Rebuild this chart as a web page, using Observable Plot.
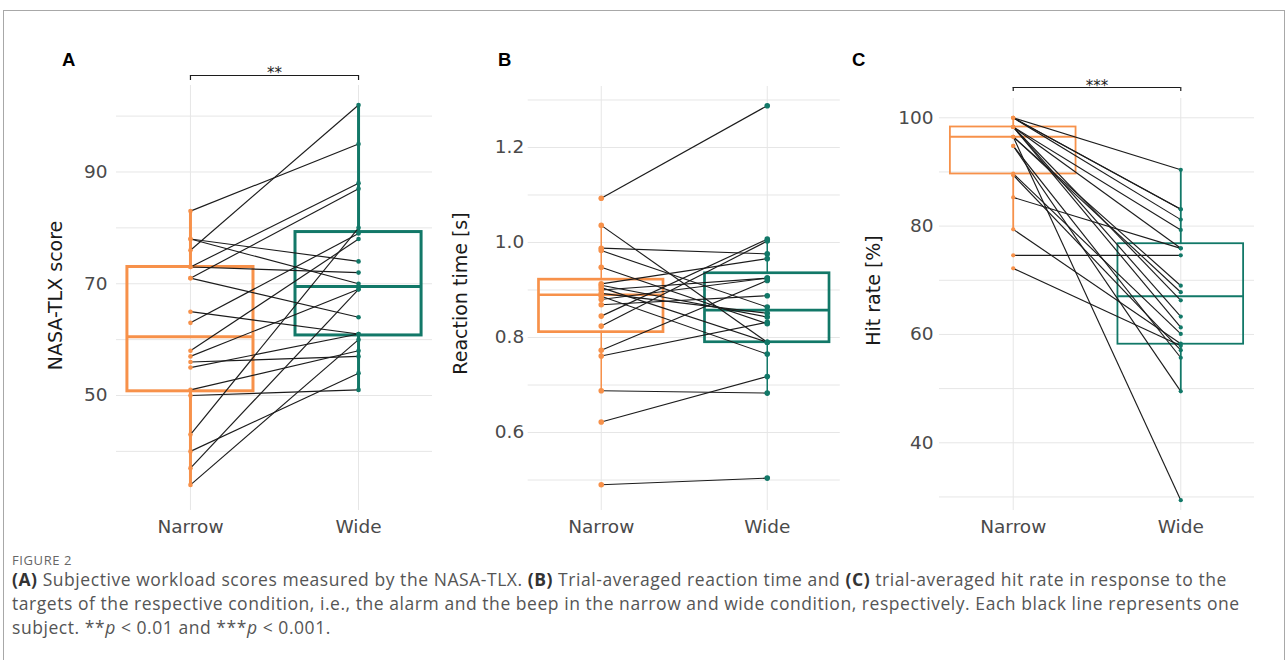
<!DOCTYPE html>
<html>
<head>
<meta charset="utf-8">
<script src="https://cdn.jsdelivr.net/npm/d3@7"></script>
<script src="https://cdn.jsdelivr.net/npm/@observablehq/plot@0.6"></script>
<style>
  html, body { margin: 0; padding: 0; background: #fff; }
  #fig { position: relative; width: 1288px; height: 660px; overflow: hidden; font-family: "DejaVu Sans", sans-serif; }
  .frame { position: absolute; left: 3px; top: 10px; width: 1282px; height: 660px; box-sizing: border-box;
           border-top: 1px solid #a8a8a8; border-left: 1px solid #a8a8a8; border-right: 1px solid #a8a8a8; }
  .panel { position: absolute; top: 0; }
  .letter { position: absolute; font-family: "Liberation Sans", Arial, sans-serif; font-weight: bold; font-size: 18.5px; line-height: 18px; color: #000; }
  .figlabel { position: absolute; left: 12px; top: 551px; font-family: "Open Sans", "Noto Sans", sans-serif; font-size: 13px; color: #666; letter-spacing: 0.6px; }
  .caption { position: absolute; left: 12px; top: 567px; font-family: "Open Sans", "Noto Sans", sans-serif; font-size: 17.5px; line-height: 24px; color: #555; white-space: nowrap; letter-spacing: 0.55px; }
  .caption b { color: #333; }
</style>
</head>
<body>
<div id="fig">
  <div class="frame"></div>
  <div class="letter" style="left:62px;top:51px">A</div>
  <div class="letter" style="left:498px;top:51px">B</div>
  <div class="letter" style="left:852px;top:51px">C</div>
  <div class="figlabel">FIGURE 2</div>
  <div class="caption">
    <b>(A)</b> Subjective workload scores measured by the NASA-TLX. <b>(B)</b> Trial-averaged reaction time and <b>(C)</b> trial-averaged hit rate in response to the<br>
    targets of the respective condition, i.e., the alarm and the beep in the narrow and wide condition, respectively. Each black line represents one<br>
    subject. **<i>p</i> &lt; 0.01 and ***<i>p</i> &lt; 0.001.
  </div>
</div>
<script>
// ---- data ----
const conditions = ["Narrow", "Wide"];

// Panel A: NASA-TLX score, one entry per subject (same order in both arrays)
const tlxNarrow = [83, 78, 78, 76, 73, 73, 71, 71, 65, 63, 58, 57, 56, 55, 51, 50, 43, 40, 37, 34];
const tlxWide   = [95, 74, 70, 102, 88, 72, 87, 64, 61, 79, 78, 69, 57, 61, 58, 51, 80, 54, 69, 60];

// Panel B: reaction time [s]
const rtNarrow = [1.093, 1.036, 0.988, 0.983, 0.948, 0.913, 0.910, 0.905, 0.900, 0.893, 0.887, 0.880, 0.869, 0.845, 0.824, 0.773, 0.761, 0.688, 0.622, 0.490];
const rtWide   = [1.288, 0.790, 0.976, 0.864, 0.829, 0.966, 0.843, 0.790, 0.925, 0.851, 0.765, 0.925, 0.888, 1.007, 1.003, 0.920, 0.832, 0.683, 0.718, 0.504];

// Panel C: hit rate [%]
const hitNarrow = [100, 100, 100, 100, 98.3, 98.3, 98.3, 98.3, 98.3, 96.5, 96.5, 96.5, 94.8, 94.8, 89.7, 89.4, 85.3, 79.4, 74.6, 72.2];
const hitWide   = [90.4, 83.1, 83.1, 81.2, 66.3, 79.3, 75.9, 61.3, 63.3, 69.0, 29.4, 67.8, 55.7, 49.5, 60.1, 57.1, 75.9, 58.3, 74.6, 57.9];

// tick labels / grid values
const tlxTicks = [50, 70, 90];
const tlxGrid = [40, 50, 60, 70, 80, 90, 100];
const rtTicks = [0.6, 0.8, 1.0, 1.2];
const rtGrid = [0.5, 0.6, 0.7, 0.8, 0.9, 1.0, 1.1, 1.2, 1.3];
const hitTicks = [40, 60, 80, 100];
const hitGrid = [30, 40, 50, 60, 70, 80, 90, 100];

// significance annotations
const sigA = {label: "**", level: 107.27, tickEnd: 106.37};
const sigC = {label: "***", level: 105.59, tickEnd: 104.86};

const colNarrow = "#F7914A";
const colWide = "#127868";

function boxStats(vals) {
  const s = d3.sort(vals);
  const q1 = d3.quantileSorted(s, 0.25), med = d3.quantileSorted(s, 0.5), q3 = d3.quantileSorted(s, 0.75);
  const iqr = q3 - q1;
  const lo = d3.min(s.filter(v => v >= q1 - 1.5 * iqr));
  const hi = d3.max(s.filter(v => v <= q3 + 1.5 * iqr));
  return {q1, med, q3, lo, hi};
}

const panels = [
  {left: 0, width: 445, plotLeft: 116, plotRight: 432, top: 85, bottom: 510, yDomain: [29.42, 105.48],
   grid: tlxGrid, ticks: tlxTicks, fmt: d => d3.format("d")(d), title: "NASA-TLX score", titleX: 55, titleY: 295,
   narrow: tlxNarrow, wide: tlxWide, boxW: 3, whW: 3, r: 2.3, tickPad: 9, sig: sigA},
  {left: 445, width: 415, plotLeft: 527.7, plotRight: 839.8, top: 86, bottom: 510, yDomain: [0.4358, 1.3284],
   grid: rtGrid, ticks: rtTicks, fmt: d => d3.format(".1f")(d), title: "Reaction time [s]", titleX: 460, titleY: 293,
   narrow: rtNarrow, wide: rtWide, boxW: 2.7, whW: 1.5, r: 2.8, tickPad: 4, sig: null},
  {left: 860, width: 428, plotLeft: 939, plotRight: 1254, top: 98, bottom: 510, yDomain: [27.5, 103.56],
   grid: hitGrid, ticks: hitTicks, fmt: d => d3.format("d")(d), title: "Hit rate [%]", titleX: 873, titleY: 290,
   narrow: hitNarrow, wide: hitWide, boxW: 1.8, whW: 1.8, r: 2.1, tickPad: 6, sig: sigC}
];

const H = 545;
const fig = document.getElementById("fig");

for (const p of panels) {
  const stats = [
    {i: 0, color: colNarrow, ...boxStats(p.narrow)},
    {i: 1, color: colWide, ...boxStats(p.wide)}
  ];
  const pairs = p.narrow.map((v, k) => ({n: v, w: p.wide[k]}));
  const ptsN = p.narrow.map(v => ({i: 0, v}));
  const ptsW = p.wide.map(v => ({i: 1, v}));
  const hw = 0.375;
  const frameMid = (p.top + p.bottom) / 2;

  const marks = [
    Plot.gridY(p.grid, {stroke: "#e6e6e6", strokeOpacity: 1, strokeWidth: 1}),
    Plot.gridX([0, 1], {stroke: "#e6e6e6", strokeOpacity: 1, strokeWidth: 1}),
    Plot.axisY(p.ticks, {tickSize: 0, tickPadding: p.tickPad, tickFormat: p.fmt, fontSize: 18.5, fill: "#4a4a4a", label: null}),
    Plot.axisX([0, 1], {tickSize: 0, tickPadding: 9, tickFormat: i => conditions[i], fontSize: 18.5, fill: "#4a4a4a", label: null}),
    Plot.text([p.title], {frameAnchor: "left", dx: p.titleX - p.plotLeft, dy: p.titleY - frameMid, rotate: -90, text: d => d,
      fontSize: 19, fill: "#1a1a1a", textAnchor: "middle"})
  ];
  for (const s of stats) {
    marks.push(
      Plot.rect([s], {x1: d => d.i - hw, x2: d => d.i + hw, y1: "q1", y2: "q3", fill: "none", stroke: s.color, strokeWidth: p.boxW}),
      Plot.ruleY([s], {y: "med", x1: d => d.i - hw, x2: d => d.i + hw, stroke: s.color, strokeWidth: p.boxW}),
      Plot.ruleX([s], {x: "i", y1: "lo", y2: "q1", stroke: s.color, strokeWidth: p.whW}),
      Plot.ruleX([s], {x: "i", y1: "q3", y2: "hi", stroke: s.color, strokeWidth: p.whW})
    );
  }
  marks.push(
    Plot.link(pairs, {x1: () => 0, x2: () => 1, y1: "n", y2: "w", stroke: "#1c1c1c", strokeWidth: 1.15}),
    Plot.dot(ptsN, {x: "i", y: "v", r: p.r, fill: colNarrow, stroke: "none"}),
    Plot.dot(ptsW, {x: "i", y: "v", r: p.r, fill: colWide, stroke: "none"})
  );
  if (p.sig) {
    const sg = p.sig;
    marks.push(
      Plot.ruleY([sg.level], {x1: () => 0, x2: () => 1, stroke: "#1c1c1c", strokeWidth: 1.2}),
      Plot.ruleX([0, 1], {y1: () => sg.level, y2: () => sg.tickEnd, stroke: "#1c1c1c", strokeWidth: 1.2}),
      Plot.text([sg.label], {x: () => 0.5, y: () => sg.level, text: d => d, dy: 3, fontSize: 15, fill: "#1c1c1c", lineAnchor: "bottom"})
    );
  }

  const chart = Plot.plot({
    width: p.width,
    height: H,
    marginLeft: p.plotLeft - p.left,
    marginRight: p.left + p.width - p.plotRight,
    marginTop: p.top,
    marginBottom: H - p.bottom,
    style: {fontFamily: "DejaVu Sans, sans-serif", background: "transparent", overflow: "visible"},
    x: {domain: [-0.44, 1.44], axis: null},
    y: {domain: p.yDomain, axis: null},
    marks
  });
  chart.classList.add("panel");
  chart.style.left = p.left + "px";
  chart.style.position = "absolute";
  chart.style.top = "0px";
  fig.appendChild(chart);
}
</script>
</body>
</html>
